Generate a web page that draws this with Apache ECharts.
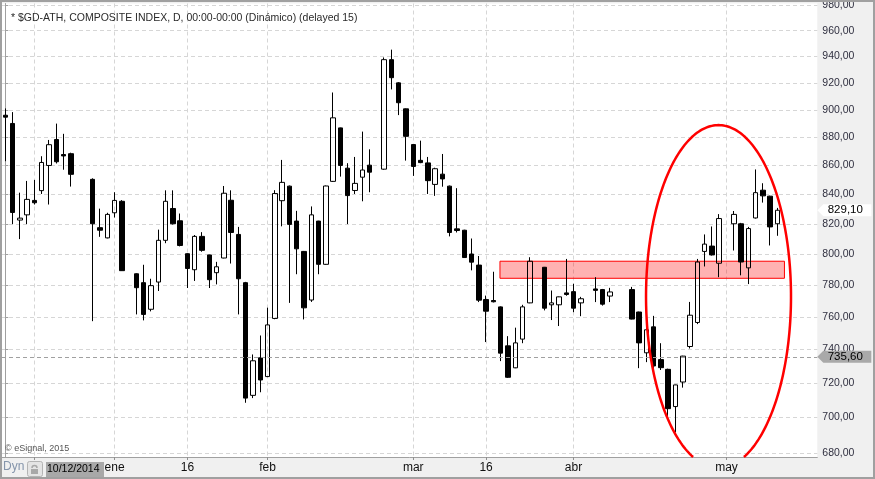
<!DOCTYPE html>
<html><head><meta charset="utf-8">
<script src="https://cdn.jsdelivr.net/npm/echarts@6/dist/echarts.min.js"></script>
<style>html,body{margin:0;padding:0;background:#f0f0f0}#c{width:875px;height:479px}</style>
</head><body><div id="c"></div>
<script>
// ---- data ----
const dates = [
'2014-12-10','2014-12-11','2014-12-12','2014-12-15','2014-12-16','2014-12-17','2014-12-18','2014-12-19','2014-12-22','2014-12-23',
'2014-12-24','2014-12-26','2014-12-29','2014-12-30','2014-12-31','2015-01-02','2015-01-05','2015-01-06','2015-01-07','2015-01-08',
'2015-01-09','2015-01-12','2015-01-13','2015-01-14','2015-01-15','2015-01-16','2015-01-19','2015-01-20','2015-01-21','2015-01-22',
'2015-01-23','2015-01-26','2015-01-27','2015-01-28','2015-01-29','2015-01-30','2015-02-02','2015-02-03','2015-02-04','2015-02-05',
'2015-02-06','2015-02-09','2015-02-10','2015-02-11','2015-02-12','2015-02-13','2015-02-16','2015-02-17','2015-02-18','2015-02-19',
'2015-02-20','2015-02-23','2015-02-24','2015-02-25','2015-02-26','2015-02-27','2015-03-02','2015-03-03','2015-03-04','2015-03-05',
'2015-03-06','2015-03-09','2015-03-10','2015-03-11','2015-03-12','2015-03-13','2015-03-16','2015-03-17','2015-03-18','2015-03-19',
'2015-03-20','2015-03-23','2015-03-24','2015-03-25','2015-03-26','2015-03-27','2015-03-30','2015-03-31','2015-04-01','2015-04-02',
'2015-04-03','2015-04-06','2015-04-07','2015-04-08','2015-04-09','2015-04-10','2015-04-14','2015-04-15','2015-04-16','2015-04-17',
'2015-04-20','2015-04-21','2015-04-22','2015-04-23','2015-04-24','2015-04-27','2015-04-28','2015-04-29','2015-04-30','2015-05-01',
'2015-05-04','2015-05-05','2015-05-06','2015-05-07','2015-05-08','2015-05-11','2015-05-12'
];
const opens = [
896,890,822.5,826,835.8,842.5,860,878.4,867.7,868.3,
null,null,850.3,817.4,810.6,827.4,835.2,null,787.2,781.5,
764.7,781.9,809,830.3,822,800.2,789.8,811.6,799.4,787.9,
797.4,835.9,812.9,781.5,712.8,735,723.8,759,835.6,845.6,
821.8,801.7,770.5,821.8,793.3,848.9,886.8,858.1,842.6,851.8,
860.2,null,857.4,937.6,920,900.7,874.8,863.6,861.8,846.8,
853.9,845.6,816.6,815.7,800,792.8,770.8,770.2,766.2,742.2,
729,746.3,768.7,null,791.4,767.5,767.5,775,775.8,768.7,
null,777.5,777.1,773,null,null,777.1,763,738,753.8,
733.9,728.1,706.3,720.6,741.8,756.5,801.7,805.2,794,null,
820,820,791,823.9,842.8,838.7,820
];
const highs = [
901,898.3,841.1,849.2,849.9,866.5,878.1,889.9,882.5,869,
null,null,851,830.2,827.4,841.4,836,null,787.5,793,
784,816.1,842.7,842.7,826.9,800.5,812.5,814.4,799.6,794.9,
845.7,842.7,817.9,782,737,748.5,765.7,842.8,863.9,846,
828.7,802,831.7,822,846,912.8,887,861.6,866,884.1,
871.4,null,939.3,945.3,920.5,901,875,877.6,866,858.4,
868.1,846,844.2,816,810.2,798.7,773.3,788.5,766.5,748.1,
753.3,767.5,797.9,null,791.6,776.5,772.7,796.8,780.8,772.5,
null,785,777.5,778.2,null,null,778.8,763.2,757,760.6,
743.8,728.5,719,736.2,769.3,796.8,812.9,818.2,826.5,null,
828.6,820.6,817.9,857.2,847.6,839,830.7
];
const lows = [
863,819.8,809.8,819.8,833,840.2,833,861.4,857,845.3,
null,null,757.3,811.3,810.3,824.2,789,null,761.5,757.8,
763.4,776.2,807.1,819.5,805,778.1,782.6,801.5,778.1,780.4,
797.2,793.8,761.5,708.5,711.2,714.6,723.5,758.5,818.3,768.7,
786.9,758.4,769.3,786.9,793,848.5,852.2,819.8,840.2,835.2,
841.4,null,857,915.1,896.1,863.4,852.7,861.6,840.2,838.9,
845.2,811.6,814.2,797.5,789.4,769.2,744.5,769,733,723,
728.8,743.8,768.5,null,764,758,754.3,773.2,762.9,760.4,
null,769.2,767,769.2,null,null,758.4,728.8,732.4,726,
727.7,700,691.6,717.3,740.6,755.5,791.9,799,785,null,
802.3,786.2,780.6,823.5,834.3,805.6,812
];
const closes = [
894.6,827.6,823.8,836.5,834.2,862.1,874.7,862.6,866.7,853.8,
null,null,820,815.7,826.3,835.8,789.2,null,778.3,761.5,
779.6,809,835.2,820,805.6,790.6,811.6,802.4,783.4,791.7,
840.7,814.2,784,711.2,733.2,721.8,755,840.5,848.2,819.6,
803.4,765.6,826,793.3,845.7,894.1,860,839.1,847.5,856.8,
855.3,null,937.6,923.9,905.2,880.7,859.3,862,849.4,857.7,
850.6,814.2,815.5,797.7,794.7,770.4,763.5,769.4,737.8,723.4,
744,766.2,795.3,null,765.4,768.7,772.5,774,765.4,771.3,
null,776.6,767.9,775.6,null,null,758.6,744,752,730.1,
729.1,705.1,718.9,736,761,794.8,806.5,799.4,823.5,null,
826.3,794.8,816.8,841.1,838.9,817.9,829.1
];
const tickDates  = ['2014-12-16','2015-01-02','2015-01-16','2015-02-02','2015-03-02','2015-03-16','2015-04-01','2015-05-01'];
const tickLabels = ['', 'ene', '16', 'feb', 'mar', '16', 'abr', 'may'];
const priceTicks = [680,700,720,740,760,780,800,820,840,860,880,900,920,940,960,980];
const lastPrice = 829.10;
const markerPrice = 735.60;
const zonePrices = [784.3, 795.3];
const titleText = '* $GD-ATH, COMPOSITE INDEX, D, 00:00-00:00 (Dinámico) (delayed 15)';

// ---- build ----
const L = Math.log;
const fmt = v => v.toFixed(2).replace('.', ',');
const candles = [];
dates.forEach((d, i) => {
  if (opens[i] == null) return;
  candles.push([i, L(opens[i]), L(closes[i]), L(lows[i]), L(highs[i])]);
});
const tickIdx = tickDates.map(d => dates.indexOf(d));
const labelMap = {};
tickIdx.forEach((ix, k) => { labelMap[ix] = tickLabels[k]; });

const X_MIN = -0.453, X_MAX = 111.46;
const Y_MIN = L(677.8), Y_MAX = L(981.6);
const FONT = '"Liberation Sans", Arial, sans-serif';

const d0 = dates[0].split('-');
const startLabel = d0[2] + '/' + d0[1] + '/' + d0[0];

const chart = echarts.init(document.getElementById('c'), null, {renderer: 'canvas'});
chart.setOption({
  animation: false,
  backgroundColor: '#f0f0f0',
  textStyle: {fontFamily: FONT},
  title: {
    text: titleText, left: 6, top: 8,
    textStyle: {fontSize: 10.5, fontWeight: 'normal', color: '#2a2a2a', fontFamily: FONT}
  },
  grid: {left: 2, right: 875 - 817.3, top: 2, bottom: 22, show: true, backgroundColor: '#ffffff', borderWidth: 0},
  xAxis: {
    type: 'value', min: X_MIN, max: X_MAX,
    axisLine: {show: true, lineStyle: {color: '#a0a0a0', width: 1}},
    axisTick: {show: true, customValues: tickIdx, length: 3, lineStyle: {color: '#909090'}},
    axisLabel: {customValues: tickIdx, formatter: v => labelMap[Math.round(v)] || '', color: '#111', fontSize: 12, margin: 5, fontFamily: FONT},
    splitLine: {show: true, lineStyle: {color: '#d6d6d6', type: [4, 3], width: 1}}
  },
  yAxis: {
    type: 'value', position: 'right', min: Y_MIN, max: Y_MAX,
    axisLine: {show: true, lineStyle: {color: '#a0a0a0', width: 1}},
    axisTick: {show: true, customValues: priceTicks.map(L), length: 3, lineStyle: {color: '#a0a0a0'}},
    axisLabel: {customValues: priceTicks.map(L), formatter: v => fmt(Math.round(Math.exp(v))), color: '#303040', fontSize: 10.5, margin: 5, fontFamily: FONT},
    splitLine: {show: true, lineStyle: {color: '#d6d6d6', type: [4, 3], width: 1}}
  },
  series: [{
    type: 'candlestick',
    data: candles,
    encode: {x: 0, y: [1, 2, 3, 4]},
    barWidth: 5,
    itemStyle: {color: 'rgba(255,255,255,0)', color0: '#000', borderColor: '#000', borderColor0: '#000', borderWidth: 1},
    markArea: {
      silent: true,
      itemStyle: {color: 'rgba(255,0,0,0.3)', borderColor: '#ff0000', borderWidth: 1},
      data: [[{xAxis: 67.9, yAxis: L(zonePrices[1])}, {xAxis: 106.95, yAxis: L(zonePrices[0])}]]
    },
    markLine: {
      silent: true, symbol: ['none', 'none'],
      lineStyle: {color: '#a0a0a0', type: [4, 3], width: 1},
      label: {show: false},
      data: [{yAxis: L(markerPrice)}]
    },
    markPoint: {
      silent: true,
      symbol: 'path://M0,6L6,0L54,0L54,12L6,12Z',
      symbolSize: [54, 12],
      symbolKeepAspect: false,
      symbolOffset: ['50%', 0],
      label: {show: true, position: 'inside', color: '#000', fontSize: 11.5, fontFamily: FONT, offset: [1, 0]},
      data: [
        {coord: [X_MAX, L(markerPrice)], itemStyle: {color: '#a9a9a9'}, label: {formatter: fmt(markerPrice)}},
        {coord: [X_MAX, L(lastPrice)], itemStyle: {color: '#ffffff'}, label: {formatter: fmt(lastPrice)}}
      ]
    }
  }]
});

// ---- annotations ----
const ellipseBox = {x0: 87.95, x1: 107.85, pTop: 888.8, pBottom: 671.8};
const p1 = chart.convertToPixel({gridIndex: 0}, [ellipseBox.x0, L(ellipseBox.pTop)]);
const p2 = chart.convertToPixel({gridIndex: 0}, [ellipseBox.x1, L(ellipseBox.pBottom)]);
const yb = chart.convertToPixel({gridIndex: 0}, [0, Y_MIN])[1];
const cx = (p1[0] + p2[0]) / 2, cy = (p1[1] + p2[1]) / 2;
const rx = (p2[0] - p1[0]) / 2, ry = (p2[1] - p1[1]) / 2;
const ts = Math.asin(Math.min(1, (yb - cy) / ry));
const pts = [];
const N = 240;
for (let k = 0; k <= N; k++) {
  const t = (Math.PI - ts) + (Math.PI + 2 * ts) * k / N;
  pts.push([cx + rx * Math.cos(t), cy + ry * Math.sin(t)]);
}

chart.setOption({
  graphic: [
    {type: 'polyline', z: 100, silent: true, shape: {points: pts}, style: {stroke: '#ff0000', lineWidth: 2.5, fill: null}},
    {type: 'text', z: 100, left: 5, top: 444, silent: true, style: {text: '\u00A9 eSignal, 2015', fill: '#555', font: '9px ' + FONT}},
    {type: 'text', z: 100, left: 3, top: 461, silent: true, style: {text: 'Dyn', fill: '#8595ab', font: '12px ' + FONT}},
    {type: 'rect', z: 100, silent: true, shape: {x: 27.5, y: 461.5, width: 15, height: 15, r: 2}, style: {fill: '#e4e4e4', stroke: '#b4b4b4', lineWidth: 1}},
    {type: 'rect', z: 101, silent: true, shape: {x: 31, y: 469, width: 7, height: 5}, style: {fill: '#a8a8a8'}},
    {type: 'arc', z: 101, silent: true, shape: {cx: 34.5, cy: 468, r: 2.5, startAngle: Math.PI, endAngle: 2 * Math.PI}, style: {stroke: '#a8a8a8', lineWidth: 1.5, fill: null}},
    {type: 'rect', z: 100, silent: true, shape: {x: 46, y: 462, width: 58, height: 15}, style: {fill: '#a8a8a8'}},
    {type: 'text', z: 101, left: 47, top: 463.5, silent: true, style: {text: startLabel, fill: '#000', font: '10.5px ' + FONT}},
    {type: 'rect', z: 200, silent: true, shape: {x: 1, y: 1, width: 873, height: 477}, style: {fill: null, stroke: '#a0a0a0', lineWidth: 2}}
  ]
});
</script>
</body></html>
